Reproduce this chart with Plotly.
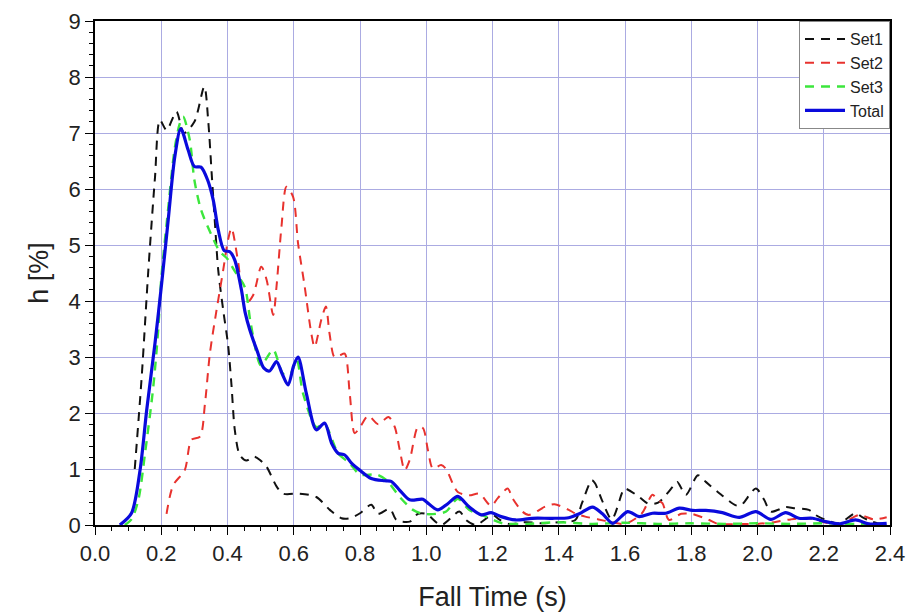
import plotly.graph_objects as go

# Fall-time distributions h [%] for three measurement sets and their total
set1_t = [0.12, 0.141, 0.161, 0.181, 0.196, 0.216, 0.246, 0.268, 0.30, 0.33, 0.342, 0.352,
          0.362, 0.372, 0.387, 0.402, 0.412, 0.422, 0.437, 0.457, 0.48, 0.5, 0.518, 0.548,
          0.568, 0.618, 0.668, 0.709, 0.744, 0.769, 0.8, 0.834, 0.854, 0.89, 0.91, 0.95,
          0.975, 1.0, 1.045, 1.1, 1.12, 1.15, 1.2, 1.22, 1.25, 1.3, 1.35, 1.4, 1.45, 1.47,
          1.5, 1.51, 1.53, 1.56, 1.593, 1.6, 1.643, 1.67, 1.7, 1.748, 1.758, 1.784, 1.82,
          1.844, 1.88, 1.935, 1.95, 1.995, 2.02, 2.04, 2.085, 2.11, 2.155, 2.175, 2.206,
          2.246, 2.296, 2.316, 2.346, 2.39]
set1_h = [1.0, 2.65, 4.55, 6.2, 7.23, 7.05, 7.38, 7.0, 7.2, 7.83, 7.2, 6.3,
          5.4, 4.55, 3.84, 3.2, 2.5, 1.7, 1.25, 1.15, 1.22, 1.15, 1.04, 0.69,
          0.56, 0.56, 0.5, 0.27, 0.12, 0.12, 0.21, 0.36, 0.2, 0.29, 0.09, 0.06,
          0.2, 0.2, 0.0, 0.24, 0.09, 0.0, 0.18, 0.1, 0.02, 0.05, 0.03, 0.05, 0.09, 0.39,
          0.8, 0.74, 0.45, 0.1, 0.6, 0.65, 0.5, 0.38, 0.4, 0.71, 0.77, 0.54, 0.89,
          0.77, 0.59, 0.35, 0.35, 0.65, 0.45, 0.24, 0.32, 0.3, 0.27, 0.18, 0.09,
          0.03, 0.21, 0.14, 0.06, 0.0]

set2_t = [0.216, 0.236, 0.271, 0.291, 0.317, 0.332, 0.347, 0.367, 0.387, 0.402, 0.412,
          0.432, 0.452, 0.477, 0.502, 0.518, 0.538, 0.548, 0.563, 0.578, 0.598, 0.613,
          0.633, 0.653, 0.663, 0.683, 0.697, 0.708, 0.723, 0.739, 0.754, 0.769, 0.784,
          0.80, 0.825, 0.855, 0.886, 0.905, 0.92, 0.935, 0.95, 0.975, 0.99, 1.005, 1.02,
          1.045, 1.06, 1.08, 1.095, 1.13, 1.16, 1.196, 1.216, 1.246, 1.26, 1.29, 1.31,
          1.36, 1.387, 1.43, 1.452, 1.48, 1.52, 1.56, 1.6, 1.65, 1.683, 1.698, 1.713,
          1.733, 1.77, 1.8, 1.85, 1.88, 1.95, 2.0, 2.05, 2.1, 2.155, 2.2, 2.25, 2.307,
          2.35, 2.39]
set2_h = [0.2, 0.71, 0.98, 1.52, 1.58, 2.17, 3.07, 3.84, 4.55, 5.1, 5.3,
          4.7, 3.93, 4.1, 4.61, 4.38, 3.75, 4.26, 5.33, 6.04, 5.86, 5.03,
          4.26, 3.42, 3.18, 3.66, 3.9, 3.42, 3.0, 3.03, 3.06, 2.35, 1.64,
          1.75, 1.95, 1.8, 1.93, 1.75, 1.34, 0.98, 1.16, 1.75, 1.73, 1.34, 1.01,
          1.07, 1.0, 0.74, 0.59, 0.53, 0.56, 0.34, 0.48, 0.65, 0.48, 0.24, 0.18,
          0.33, 0.37, 0.27, 0.2, 0.15, 0.1, 0.05, 0.02, 0.2, 0.54, 0.45, 0.39,
          0.09, 0.2, 0.2, 0.1, 0.02, 0.02, 0.02, 0.05, 0.1, 0.12, 0.05, 0.02, 0.18,
          0.1, 0.14]

set3_t = [0.09, 0.11, 0.131, 0.151, 0.176, 0.191, 0.2, 0.22, 0.24, 0.255, 0.266, 0.286,
          0.3, 0.32, 0.35, 0.377, 0.40, 0.42, 0.452, 0.47, 0.5, 0.515, 0.538, 0.568,
          0.59, 0.609, 0.628, 0.668, 0.693, 0.734, 0.769, 0.8, 0.85, 0.88, 0.92, 0.96,
          0.99, 1.03, 1.06, 1.095, 1.13, 1.18, 1.23, 1.3, 1.4, 1.5, 1.6, 1.7, 1.8, 1.9,
          2.0, 2.1, 2.2, 2.3, 2.4]
set3_h = [0.0, 0.1, 0.45, 1.28, 2.47, 3.5, 4.4, 5.6, 6.7, 7.15, 7.29, 6.88,
          6.16, 5.63, 5.2, 4.88, 4.75, 4.55, 4.25, 3.6, 2.85, 2.95, 3.13, 2.7,
          2.7, 2.95, 2.35, 1.75, 1.8, 1.28, 1.1, 0.9, 0.9, 0.8, 0.5, 0.27,
          0.2, 0.2, 0.24, 0.47, 0.27, 0.15, 0.03, 0.02, 0.05, 0.02, 0.04, 0.02, 0.03, 0.02,
          0.03, 0.02, 0.03, 0.02, 0.02]

total_t = [0.075, 0.11, 0.136, 0.156, 0.181, 0.201, 0.221, 0.241, 0.259, 0.281, 0.30,
           0.32, 0.34, 0.357, 0.372, 0.39, 0.407, 0.422, 0.442, 0.453, 0.467, 0.49,
           0.51, 0.527, 0.548, 0.565, 0.583, 0.6, 0.613, 0.638, 0.668, 0.693, 0.715,
           0.734, 0.754, 0.775, 0.799, 0.834, 0.874, 0.894, 0.92, 0.95, 0.99, 1.005,
           1.035, 1.065, 1.095, 1.13, 1.166, 1.196, 1.226, 1.27, 1.32, 1.38, 1.43,
           1.462, 1.502, 1.532, 1.563, 1.608, 1.643, 1.683, 1.723, 1.764, 1.804, 1.844,
           1.894, 1.945, 1.995, 2.04, 2.085, 2.125, 2.166, 2.206, 2.246, 2.296, 2.336,
           2.39]
total_h = [0.0, 0.21, 0.98, 2.05, 3.24, 4.3, 5.45, 6.58, 7.08, 6.7, 6.4,
           6.39, 6.16, 5.8, 5.27, 4.9, 4.88, 4.73, 4.2, 3.8, 3.49, 3.1,
           2.8, 2.75, 2.92, 2.7, 2.5, 2.85, 3.0, 2.35, 1.7, 1.82, 1.45,
           1.28, 1.25, 1.1, 0.98, 0.83, 0.79, 0.78, 0.62, 0.45, 0.46, 0.39,
           0.27, 0.38, 0.51, 0.32, 0.18, 0.22, 0.15, 0.09, 0.12, 0.12, 0.13,
           0.2, 0.32, 0.2, 0.03, 0.24, 0.15, 0.21, 0.21, 0.3, 0.26, 0.26,
           0.22, 0.137, 0.24, 0.1, 0.22, 0.12, 0.12, 0.06, 0.02, 0.09, 0.02,
           0.03]

x_ticks = [0.0, 0.2, 0.4, 0.6, 0.8, 1.0, 1.2, 1.4, 1.6, 1.8, 2.0, 2.2, 2.4]
y_ticks = [0, 1, 2, 3, 4, 5, 6, 7, 8, 9]

FONT = "Liberation Sans, Arial, sans-serif"
GRID = "#ababe2"

fig = go.Figure()
series = [
    ("Set1", set1_t, set1_h, "#111111", "9px,7px", 2),
    ("Set2", set2_t, set2_h, "#e8322e", "9px,7px", 2),
    ("Set3", set3_t, set3_h, "#3ce63c", "9px,7px", 2.4),
    ("Total", total_t, total_h, "#0a0adc", "solid", 3.2),
]
for name, t, h, color, dash, width in series:
    fig.add_trace(go.Scatter(
        x=t, y=h, name=name, mode="lines",
        line=dict(color=color, width=width, dash=dash, shape="spline", smoothing=0.8),
    ))

axis_common = dict(
    showline=True, linecolor="black", linewidth=1.5, mirror=True,
    ticks="outside", ticklen=8, tickwidth=1.3, tickcolor="black",
    showgrid=True, gridcolor=GRID, gridwidth=1, zeroline=False,
    tickfont=dict(family=FONT, size=22, color="#222222"),
)

fig.update_xaxes(
    range=[0, 2.4], tickvals=x_ticks, ticktext=[f"{v:.1f}" for v in x_ticks],
    minor=dict(dtick=0.05, tick0=0, ticks="outside", ticklen=4, tickcolor="black", showgrid=False),
    title=dict(text="Fall Time (s)", font=dict(family=FONT, size=27, color="#222222"), standoff=22),
    **axis_common,
)
fig.update_yaxes(
    range=[0, 9], tickvals=y_ticks,
    minor=dict(dtick=0.2, tick0=0, ticks="outside", ticklen=4, tickcolor="black", showgrid=False),
    title=dict(text="h [%]", font=dict(family=FONT, size=27, color="#222222"), standoff=12),
    **axis_common,
)

fig.update_layout(
    width=917, height=616,
    margin=dict(l=95, r=27, t=21, b=91, autoexpand=False),
    paper_bgcolor="white", plot_bgcolor="white",
    showlegend=True,
    legend=dict(
        x=1, y=1, xanchor="right", yanchor="top",
        bgcolor="white", bordercolor="#888888", borderwidth=1,
        font=dict(family=FONT, size=16, color="#222222"),
        itemwidth=40, tracegroupgap=0,
    ),
)

fig.write_html("out.html")
